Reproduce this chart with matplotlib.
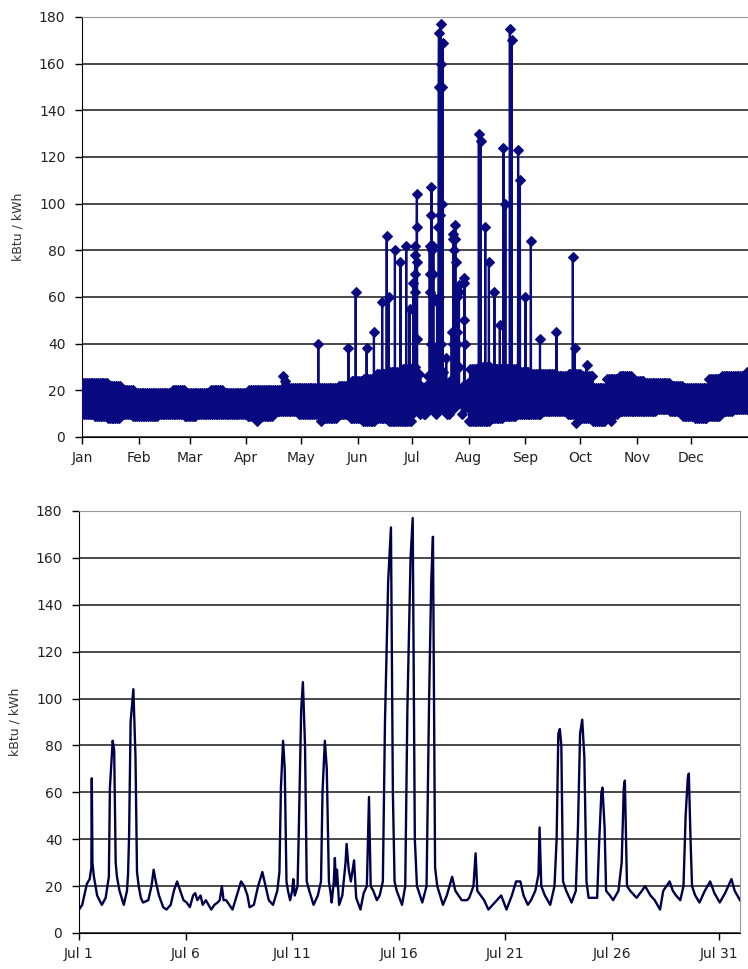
import matplotlib.pyplot as plt
import numpy as np

# --- top panel: whole year, hourly ---
months = ['Jan', 'Feb', 'Mar', 'Apr', 'May', 'Jun',
          'Jul', 'Aug', 'Sep', 'Oct', 'Nov', 'Dec']
month_start = [0, 31, 59, 90, 120, 151, 181, 212, 243, 273, 304, 334]

# weekly low / high of the daily swing
week_lo = [10, 9, 8, 10, 9, 9, 10, 10, 9, 10, 10, 10, 10, 9, 9, 11, 11, 10, 10, 8,
           10, 8, 7, 8, 7, 7, 8, 8, 8, 8, 7, 7, 8, 9, 10, 10, 11, 11, 10, 8,
           7, 10, 11, 11, 11, 12, 11, 9, 8, 9, 11, 12, 12]
week_hi = [23, 23, 22, 20, 19, 19, 19, 20, 19, 19, 20, 19, 19, 20, 20, 20, 21, 21, 21, 21,
           22, 24, 25, 27, 28, 29, 30, 30, 30, 30, 29, 30, 29, 29, 28, 27, 27, 26, 27, 26,
           21, 25, 26, 24, 23, 23, 22, 21, 21, 25, 26, 26, 28]

# spikes (day of year, peak), July comes from the detail series
spike_day = [96, 110, 111.5, 129.5, 131, 146, 150, 156, 160, 164.5, 167, 168.2, 171.5,
             174.5, 177.7, 179.5, 217.5, 218.5, 221, 223, 226, 229, 231, 232, 234.5,
             235.5, 239, 240, 243, 246, 251, 260, 269, 270, 276.5, 271, 286, 290]
spike_peak = [7, 26, 24, 40, 7, 38, 62, 38, 45, 58, 86, 60, 80,
              75, 82, 55, 130, 127, 90, 75, 62, 48, 124, 100, 175,
              170, 123, 110, 60, 84, 42, 45, 77, 38, 31, 6, 7, 7]

# --- bottom panel: July detail (days after Jul 1 00:00, kBtu/kWh) ---
jul_t = [0.0, 0.15, 0.37, 0.5, 0.58, 0.6, 0.63, 0.7, 0.85, 1.07, 1.25, 1.35, 1.4, 1.45, 1.5,
         1.58, 1.65, 1.72, 1.78, 1.9, 2.1, 2.25, 2.3, 2.35, 2.42, 2.55, 2.65, 2.72, 2.8, 2.9,
         3.0, 3.25, 3.4, 3.5, 3.6, 3.75, 3.95, 4.1, 4.3, 4.45, 4.6, 4.75, 4.9, 5.05, 5.2,
         5.35, 5.45, 5.55, 5.7, 5.8, 5.95, 6.2, 6.35, 6.5, 6.6, 6.7, 6.78, 6.9, 7.05, 7.2,
         7.4, 7.6, 7.75, 7.9, 8.0, 8.2, 8.4, 8.6, 8.75, 8.9, 9.1, 9.3, 9.4, 9.47, 9.57,
         9.65, 9.73, 9.8, 9.9, 10.0, 10.05, 10.12, 10.25, 10.3, 10.42, 10.5, 10.6, 10.68, 10.8, 11.0,
         11.2, 11.35, 11.42, 11.53, 11.62, 11.72, 11.8, 11.85, 11.95, 12.0, 12.05, 12.1, 12.2, 12.35, 12.5,
         12.55, 12.65, 12.75, 12.9, 13.0, 13.2, 13.35, 13.5, 13.6, 13.68, 13.8, 13.97, 14.1, 14.25, 14.35,
         14.5, 14.63, 14.72, 14.8, 14.9, 15.15, 15.3, 15.4, 15.55, 15.65, 15.75, 15.85, 16.1, 16.3, 16.42,
         16.52, 16.6, 16.7, 16.8, 17.07, 17.25, 17.5, 17.65, 17.95, 18.2, 18.3, 18.5, 18.6, 18.68, 19.0,
         19.2, 19.6, 19.8, 20.05, 20.3, 20.5, 20.7, 20.85, 21.05, 21.2, 21.4, 21.55, 21.6, 21.68, 21.85,
         22.1, 22.3, 22.4, 22.48, 22.55, 22.62, 22.7, 22.85, 23.1, 23.3, 23.4, 23.5, 23.6, 23.7, 23.8,
         23.9, 24.3, 24.4, 24.5, 24.55, 24.65, 24.72, 24.9, 25.05, 25.3, 25.45, 25.55, 25.6, 25.7, 25.85,
         26.15, 26.4, 26.55, 26.8, 27.0, 27.25, 27.4, 27.55, 27.7, 27.85, 28.0, 28.2, 28.35, 28.45, 28.55,
         28.6, 28.68, 28.75, 28.9, 29.1, 29.35, 29.6, 29.8, 30.05, 30.3, 30.6, 30.75, 31.0]
jul_v = [10, 12, 21, 23, 28, 66, 30, 24, 16, 12, 15, 21, 24, 62, 70,
         82, 78, 30, 24, 18, 12, 18, 25, 42, 90, 104, 75, 26, 20, 15,
         13, 14, 20, 27, 22, 16, 11, 10, 12, 18, 22, 18, 14, 13, 11,
         16, 17, 14, 16, 12, 14, 10, 12, 13, 14, 20, 14, 14, 12, 10,
         16, 22, 20, 16, 11, 12, 20, 26, 20, 14, 12, 18, 26, 62, 82,
         70, 22, 18, 14, 18, 23, 16, 20, 40, 95, 107, 80, 22, 18, 12,
         16, 22, 60, 82, 70, 22, 17, 13, 22, 32, 20, 27, 12, 16, 30,
         38, 27, 22, 31, 15, 10, 17, 20, 58, 20, 18, 14, 16, 22, 90,
         150, 173, 60, 22, 18, 12, 20, 95, 160, 177, 40, 20, 13, 20, 100,
         150, 169, 28, 20, 12, 16, 24, 18, 14, 14, 15, 20, 34, 18, 14,
         10, 14, 16, 10, 16, 22, 22, 16, 12, 14, 18, 25, 45, 20, 16,
         12, 20, 40, 85, 87, 80, 22, 18, 13, 18, 45, 85, 91, 75, 22,
         15, 15, 40, 60, 62, 45, 18, 16, 14, 18, 30, 62, 65, 20, 18,
         15, 18, 20, 16, 14, 10, 18, 20, 22, 18, 16, 14, 20, 50, 66,
         68, 40, 20, 16, 13, 18, 22, 17, 13, 17, 23, 18, 14]
jul_ticks = [0, 5, 10, 15, 20, 25, 30]
jul_labels = ['Jul 1', 'Jul 6', 'Jul 11', 'Jul 16', 'Jul 21', 'Jul 26', 'Jul 31']

# assemble the year series
t, v = [], []
for w, (lo, hi) in enumerate(zip(week_lo, week_hi)):
    for d in range(7):
        day = w * 7 + d
        if day >= 365 or 181 <= day < 212:
            continue
        t += [day + 0.2, day + 0.7]
        v += [lo, hi]
for day, peak in zip(spike_day, spike_peak):
    t += [day - 0.1, day, day + 0.1]
    v += [16, peak, 16]
t += [181 + x for x in jul_t]
v += jul_v
order = np.argsort(t)
t = np.array(t)[order]
v = np.array(v)[order]

navy = '#0a0a80'
grid_c = '#3a3a3a'

fig = plt.figure(figsize=(7.48, 9.69), dpi=100)
ax1 = fig.add_axes([82 / 748, 1 - 437 / 969, 666 / 748, 420 / 969])
ax2 = fig.add_axes([79 / 748, 1 - 933 / 969, 661 / 748, 422 / 969])

ax1.plot(t, v, color=navy, lw=1.6, marker='D', ms=5,
         mfc=navy, mec=navy, mew=0.8, zorder=3)
ax1.set_xlim(0, 365)
ax1.set_xticks(month_start)
ax1.set_xticklabels(months)

ax2.plot(jul_t, jul_v, color='#00004a', lw=1.7, zorder=3)
ax2.set_xlim(0, 31)
ax2.set_xticks(jul_ticks)
ax2.set_xticklabels(jul_labels)

for ax in (ax1, ax2):
    ax.set_ylim(0, 180)
    ax.set_yticks(range(0, 181, 20))
    ax.yaxis.grid(True, color=grid_c, lw=1.3)
    ax.set_axisbelow(True)
    ax.tick_params(axis='both', direction='out', length=5, width=1,
                   labelsize=10, labelcolor='#222222')
    ax.tick_params(axis='y', pad=7)
    ax.tick_params(axis='x', pad=5)
    ax.spines['left'].set_color('black')
    ax.spines['bottom'].set_color('black')
    ax.spines['top'].set_color('#999999')
    ax.set_ylabel('kBtu / kWh', fontsize=9, color='#333333')
    ax.yaxis.set_label_coords(-0.087, 0.5)

ax1.spines['right'].set_visible(False)
ax2.spines['right'].set_color('#999999')

fig.savefig('out.png', dpi=100)
